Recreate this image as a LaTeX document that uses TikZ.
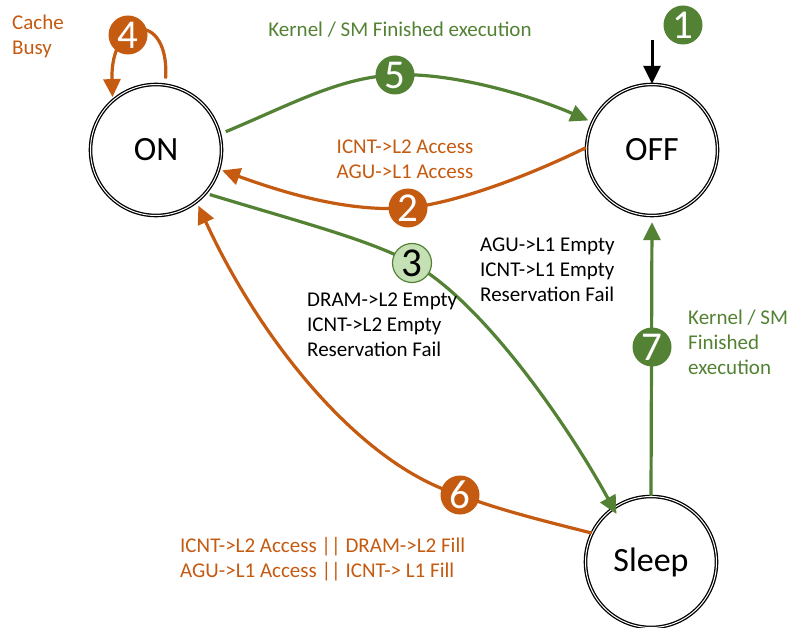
\documentclass[tikz,border=0pt]{standalone}
\usepackage{fontspec}
\setmainfont{Carlito}
\usetikzlibrary{arrows.meta}
\definecolor{rust}{HTML}{C55A11}
\definecolor{leaf}{HTML}{548235}
\definecolor{mint}{HTML}{C5E0B4}

\begin{document}
\begin{tikzpicture}[x=1pt,y=-1pt,
  state/.style={circle, draw=black, double=white, double distance=1pt,
    line width=1.3pt, minimum size=131pt, inner sep=0pt,
    font=\fontsize{34}{40}\selectfont},
  badge/.style={circle, minimum size=39pt, inner sep=0pt, text=white,
    font=\fontsize{41}{41}\selectfont},
  wire/.style={line width=3.2pt, -{Triangle[length=18pt,width=17pt]}},
  lbl/.style={font=\fontsize{21}{25}\selectfont, align=left, inner sep=0pt},
]
\fill[white] (0,0) rectangle (792,628);
\useasboundingbox (0,0) rectangle (792,628);

% states
\node[state] (ON)  at (156,150) {ON};
\node[state] (OFF) at (652,150) {OFF};
\node[state] (SL)  at (651,562) {Sleep};

% badge positions on the transitions
\coordinate (p1) at (683,25);
\coordinate (p2) at (408,208);
\coordinate (p3) at (412,263);
\coordinate (p4) at (128,35);
\coordinate (p5) at (395,75);
\coordinate (p6) at (460,495);
\coordinate (p7) at (652,347);
\coordinate (c1) at (652,40);

% transitions
\draw[wire, black, line width=3pt] (c1) -- (OFF.90);
\draw[wire, leaf, shorten <=6pt, shorten >=4pt]
  (ON.14) .. controls (290,105) and (340,77) .. (p5)
          .. controls (450,72) and (530,95) .. (OFF.155);
\draw[wire, rust, shorten >=3pt]
  (OFF.178) .. controls (530,175) and (460,202) .. (p2)
            .. controls (350,212) and (290,195) .. (ON.-17);
\draw[wire, leaf, shorten <=4pt, shorten >=-7pt]
  (ON.-41) .. controls (300,222) and (370,240) .. (p3)
           .. controls (480,300) and (565,420) .. (SL.125);
\draw[wire, rust, shorten <=6pt, shorten >=3pt]
  (ON.82) .. controls (170,10) and (110,15) .. (ON.131);
\draw[wire, rust, shorten >=4pt]
  (SL.154) .. controls (540,520) and (500,510) .. (p6)
           .. controls (360,465) and (260,340) .. (ON.-52);
\draw[wire, leaf, shorten >=6pt] (SL.90) -- (OFF.-90);

% numbered badges
\node[badge, fill=leaf] (B1) at (p1) {1};
\node[badge, fill=rust] (B2) at (p2) {2};
\node[badge, fill=mint, draw=leaf, line width=1.2pt, text=black] (B3) at (p3) {3};
\node[badge, fill=rust] (B4) at (p4) {4};
\node[badge, fill=leaf] (B5) at (p5) {5};
\node[badge, fill=rust] (B6) at (p6) {6};
\node[badge, fill=leaf] (B7) at (p7) {7};

% transition conditions
\node[lbl, text=rust, anchor=west] (tCache) at (12,36) {Cache\\Busy};
\node[lbl, text=leaf] (tFin) at (400,30) {Kernel / SM Finished execution};
\node[lbl, text=rust, align=center] (tAcc) at (405,159) {ICNT->L2 Access\\AGU->L1 Access};
\node[lbl, anchor=west] (tL1) at (480,270) {AGU->L1 Empty\\ICNT->L1 Empty\\Reservation Fail};
\node[lbl, anchor=west] (tL2) at (307,325) {DRAM->L2 Empty\\ICNT->L2 Empty\\Reservation Fail};
\node[lbl, text=rust, anchor=west] (tWake) at (180,559)
  {ICNT->L2 Access || DRAM->L2 Fill\\AGU->L1 Access || ICNT-> L1 Fill};
\node[lbl, text=leaf, anchor=west] (tFin2) at (688,342) {Kernel / SM\\Finished\\execution};
\end{tikzpicture}
\end{document}
